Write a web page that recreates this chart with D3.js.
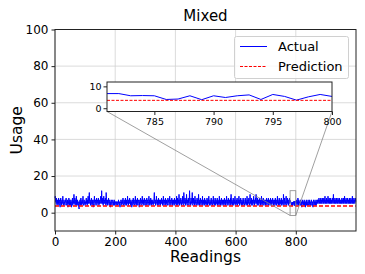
<!DOCTYPE html>
<html lang="en">
<head>
<meta charset="UTF-8">
<title>Mixed</title>
<script src="https://d3js.org/d3.v7.min.js"></script>
<style>
  body { margin: 0; background: #fff; }
  svg text { font-family: "DejaVu Sans", sans-serif; fill: #000; }
</style>
</head>
<body>
<svg id="chart" width="365" height="274"></svg>
<script>
// readings (usage per reading index)
const actual = [
  8,9,6,7,5,8,6,4,7,5,6,5,8,4,6,7,5,3,6,8,5,6,4,7,5,6,9,5,4,6,7,5,6,4,5,7,6,8,5,4,6,5,7,3,6,5,8,6,4,7,
  5,6,4,7,5,3,6,5,8,4,6,5,7,10,6,5,8,4,6,7,5,9,4,6,5,7,4,6,5,3,2,6,5,7,4,6,8,5,6,4,7,5,6,9,5,4,6,7,5,6,
  4,6,5,7,8,5,6,4,7,5,9,6,5,8,11,6,5,7,4,6,5,8,6,4,7,5,6,3,5,7,6,9,5,4,6,7,5,6,8,4,5,7,6,5,8,6,4,7,5,6,
  5,7,9,6,5,12,6,8,5,7,4,6,9,5,6,7,5,8,6,4,11,7,5,6,4,7,5,6,8,5,4,6,7,5,3,6,5,7,6,4,5,6,7,5,4,6,5,7,4,6,
  5,6,5,4,6,5,6,4,5,6,5,7,5,4,6,5,3,5,6,7,5,6,4,7,5,6,8,5,4,6,7,5,6,4,8,5,6,7,4,6,5,9,6,5,4,7,5,6,8,5,
  6,4,7,5,6,3,5,7,6,4,8,5,6,7,5,4,6,9,5,6,4,7,5,6,8,4,5,7,6,5,3,6,7,5,8,6,4,5,7,6,9,5,6,4,7,5,6,8,5,4,
  6,7,5,4,6,8,5,6,7,4,5,6,9,5,7,4,6,5,8,6,4,7,5,6,5,7,4,6,5,8,11,6,5,7,4,6,5,9,6,5,4,7,6,5,8,4,6,7,5,6,
  4,7,5,6,8,5,6,4,7,5,9,6,4,5,7,6,5,8,4,6,5,7,6,4,5,8,6,7,5,4,6,9,5,7,6,4,5,6,8,5,7,4,6,5,7,6,4,8,5,6,
  7,5,6,4,9,6,5,8,4,6,7,5,10,6,4,7,5,6,8,5,4,6,7,5,9,6,4,5,11,7,6,5,8,4,6,7,5,10,6,4,5,7,6,8,5,4,6,12,7,5,
  6,4,8,5,6,7,11,5,4,6,8,5,7,6,4,9,5,6,7,4,5,6,8,5,7,4,6,10,5,6,4,7,5,8,6,4,5,7,6,5,9,4,6,5,7,6,4,8,5,6,
  5,7,4,6,5,8,6,4,7,5,6,9,5,4,6,7,5,6,4,8,5,6,7,4,5,6,9,5,7,4,6,5,8,6,4,7,5,6,5,8,4,6,7,5,6,4,9,5,6,7,
  4,6,5,8,6,4,7,5,6,5,7,4,6,8,5,6,4,7,5,6,9,5,4,6,7,5,8,6,4,5,7,6,5,8,4,10,6,5,7,4,6,5,8,6,4,7,5,6,9,5,
  6,4,7,5,6,8,4,5,7,6,5,9,6,4,7,5,6,8,5,4,6,7,5,6,4,8,5,7,6,4,5,6,8,5,7,4,6,5,9,6,4,7,5,6,8,5,4,6,10,7,
  5,6,4,8,5,6,7,4,5,6,9,5,7,4,6,5,8,6,10,7,5,6,4,8,5,6,7,4,5,6,8,5,7,4,6,5,9,6,4,7,5,6,8,5,4,6,7,5,6,4,
  7,5,6,8,4,5,7,6,5,8,4,6,7,5,6,4,8,5,6,7,4,5,6,8,5,7,4,6,5,7,6,4,8,5,6,7,4,5,6,9,5,7,4,6,5,8,6,4,7,5,
  6,5,8,4,6,7,5,6,4,10,7,5,6,8,4,6,5,7,9,5,4,6,8,5,6,7,4,5,6,8,5,6.7,6.7,5.7,5.8,5.7,4,4.2,5.7,3.9,5.7,4.9,5.7,6.1,4,6.3,5.4,3.7,5.2,6.3,
  5.4,6,5,7,4,6,5,8,6,4,7,5,6,5,4,6,7,4,5,6,3,5,7,5,6,4,6,5,7,4,6,5,3,6,5,7,4,6,5,4,6,7,5,4,6,5,7,4,6,5,
  4,6,7,5,4,6,5,3,6,7,5,4,6,5,7,4,6,5,4,6,7,5,7,6,5,7,6,8,5,6,7,5,6,8,5,7,6,5,8,6,7,5,6,8,5,7,6,9,5,6,
  7,5,8,6,5,7,6,9,5,7,6,8,5,6,7,5,8,6,5,7,6,5,8,6,7,10,5,6,7,5,8,6,5,7,6,8,5,7,6,5,8,6,7,5,6,8,5,7,6,5,
  7,6,5,8,6,7,5,6,8,5,7,6,9,5,6,7,5,8,6,5,7,6,8,5,6,7,5,6,8,5,7,6,5,8,6,7,5,6,9,5,7,6,5,8,6,7,5,6,8,6
];
const prediction = 3.6;

const xTicks = [0, 200, 400, 600, 800];
const yTicks = [0, 20, 40, 60, 80, 100];
const insetXTicks = [785, 790, 795, 800];
const insetYTicks = [0, 10];
const insetRange = [781, 800];
const insetYRange = [-1.5, 12];

const svg = d3.select("#chart");
const mLeft = 55, mRight = 356, mTop = 29.5, mBottom = 231;

const x = d3.scaleLinear().domain([0, 1000]).range([mLeft, mRight]);
const y = d3.scaleLinear().domain([-10, 100]).range([mBottom, mTop]);

// grid
svg.append("g").selectAll("line").data(xTicks).join("line")
  .attr("x1", d => x(d)).attr("x2", d => x(d)).attr("y1", mTop).attr("y2", mBottom)
  .attr("stroke", "#d2d2d2").attr("stroke-width", 0.8);
svg.append("g").selectAll("line").data(yTicks).join("line")
  .attr("x1", mLeft).attr("x2", mRight).attr("y1", d => y(d)).attr("y2", d => y(d))
  .attr("stroke", "#d2d2d2").attr("stroke-width", 0.8);

// data lines
const line = d3.line().x((d, i) => x(i)).y(d => y(d));
svg.append("path").datum(actual).attr("d", line)
  .attr("fill", "none").attr("stroke", "#0000ff").attr("stroke-width", 1);
svg.append("line")
  .attr("x1", x(0)).attr("x2", x(actual.length - 1))
  .attr("y1", y(prediction)).attr("y2", y(prediction))
  .attr("stroke", "#ff0000").attr("stroke-width", 1.5).attr("stroke-dasharray", "4,2");

// axes
const xAxis = svg.append("g").attr("transform", `translate(0,${mBottom})`)
  .call(d3.axisBottom(x).tickValues(xTicks).tickSize(3.5).tickPadding(3));
const yAxis = svg.append("g").attr("transform", `translate(${mLeft},0)`)
  .call(d3.axisLeft(y).tickValues(yTicks).tickSize(3.5).tickPadding(3));
[xAxis, yAxis].forEach(a => {
  a.select(".domain").remove();
  a.selectAll("text").style("font-size", "12px");
  a.selectAll("line").attr("stroke", "#222");
});
svg.append("rect").attr("x", mLeft).attr("y", mTop)
  .attr("width", mRight - mLeft).attr("height", mBottom - mTop)
  .attr("fill", "none").attr("stroke", "#222").attr("stroke-width", 1);

// titles
svg.append("text").attr("x", (mLeft + mRight) / 2).attr("y", 21)
  .attr("text-anchor", "middle").style("font-size", "15px").text("Mixed");
svg.append("text").attr("x", (mLeft + mRight) / 2).attr("y", 262)
  .attr("text-anchor", "middle").style("font-size", "15.5px").text("Readings");
svg.append("text").attr("transform", `translate(22,${(mTop + mBottom) / 2}) rotate(-90)`)
  .attr("text-anchor", "middle").style("font-size", "15.5px").text("Usage");

// legend
const lg = svg.append("g");
lg.append("rect").attr("x", 234.5).attr("y", 36.5).attr("width", 114).attr("height", 42)
  .attr("rx", 2).attr("fill", "#fff").attr("fill-opacity", 0.8).attr("stroke", "#d0d0d0");
lg.append("line").attr("x1", 240).attr("x2", 267).attr("y1", 46.5).attr("y2", 46.5)
  .attr("stroke", "#0000ff").attr("stroke-width", 1);
lg.append("line").attr("x1", 240).attr("x2", 267).attr("y1", 66.5).attr("y2", 66.5)
  .attr("stroke", "#ff0000").attr("stroke-width", 1).attr("stroke-dasharray", "3,1.5");
lg.append("text").attr("x", 278).attr("y", 51).style("font-size", "13px").text("Actual");
lg.append("text").attr("x", 278).attr("y", 71).style("font-size", "13px").text("Prediction");

// inset
const iL = 107, iR = 332, iT = 82, iB = 111.5;
const ix = d3.scaleLinear().domain(insetRange).range([iL, iR]);
const iy = d3.scaleLinear().domain(insetYRange).range([iB, iT]);

// zoom marker + connectors
svg.append("rect")
  .attr("x", x(insetRange[0])).attr("y", y(insetYRange[1]))
  .attr("width", x(insetRange[1]) - x(insetRange[0]))
  .attr("height", y(insetYRange[0]) - y(insetYRange[1]))
  .attr("fill", "none").attr("stroke", "#888").attr("stroke-width", 0.8);
svg.append("line").attr("x1", iL).attr("y1", iB)
  .attr("x2", x(insetRange[0])).attr("y2", y(insetYRange[0]))
  .attr("stroke", "#888").attr("stroke-width", 0.8);
svg.append("line").attr("x1", iR).attr("y1", iB)
  .attr("x2", x(insetRange[1])).attr("y2", y(insetYRange[0]))
  .attr("stroke", "#888").attr("stroke-width", 0.8);

const ins = svg.append("g");
ins.append("rect").attr("x", iL).attr("y", iT).attr("width", iR - iL).attr("height", iB - iT)
  .attr("fill", "#fff");
const clip = svg.append("clipPath").attr("id", "insetClip");
clip.append("rect").attr("x", iL).attr("y", iT).attr("width", iR - iL).attr("height", iB - iT);
const idx = d3.range(insetRange[0], insetRange[1] + 1);
ins.append("path").datum(idx).attr("clip-path", "url(#insetClip)")
  .attr("d", d3.line().x(i => ix(i)).y(i => iy(actual[i])))
  .attr("fill", "none").attr("stroke", "#0000ff").attr("stroke-width", 1);
ins.append("line").attr("x1", iL).attr("x2", iR)
  .attr("y1", iy(prediction)).attr("y2", iy(prediction))
  .attr("stroke", "#ff0000").attr("stroke-width", 1).attr("stroke-dasharray", "3,1.5");
const ixAxis = ins.append("g").attr("transform", `translate(0,${iB})`)
  .call(d3.axisBottom(ix).tickValues(insetXTicks).tickSize(3.5).tickPadding(3));
const iyAxis = ins.append("g").attr("transform", `translate(${iL},0)`)
  .call(d3.axisLeft(iy).tickValues(insetYTicks).tickSize(3.5).tickPadding(2));
[ixAxis, iyAxis].forEach(a => {
  a.select(".domain").remove();
  a.selectAll("text").style("font-size", "9.5px");
  a.selectAll("line").attr("stroke", "#222");
});
ins.append("rect").attr("x", iL).attr("y", iT).attr("width", iR - iL).attr("height", iB - iT)
  .attr("fill", "none").attr("stroke", "#222").attr("stroke-width", 1);
</script>
</body>
</html>
